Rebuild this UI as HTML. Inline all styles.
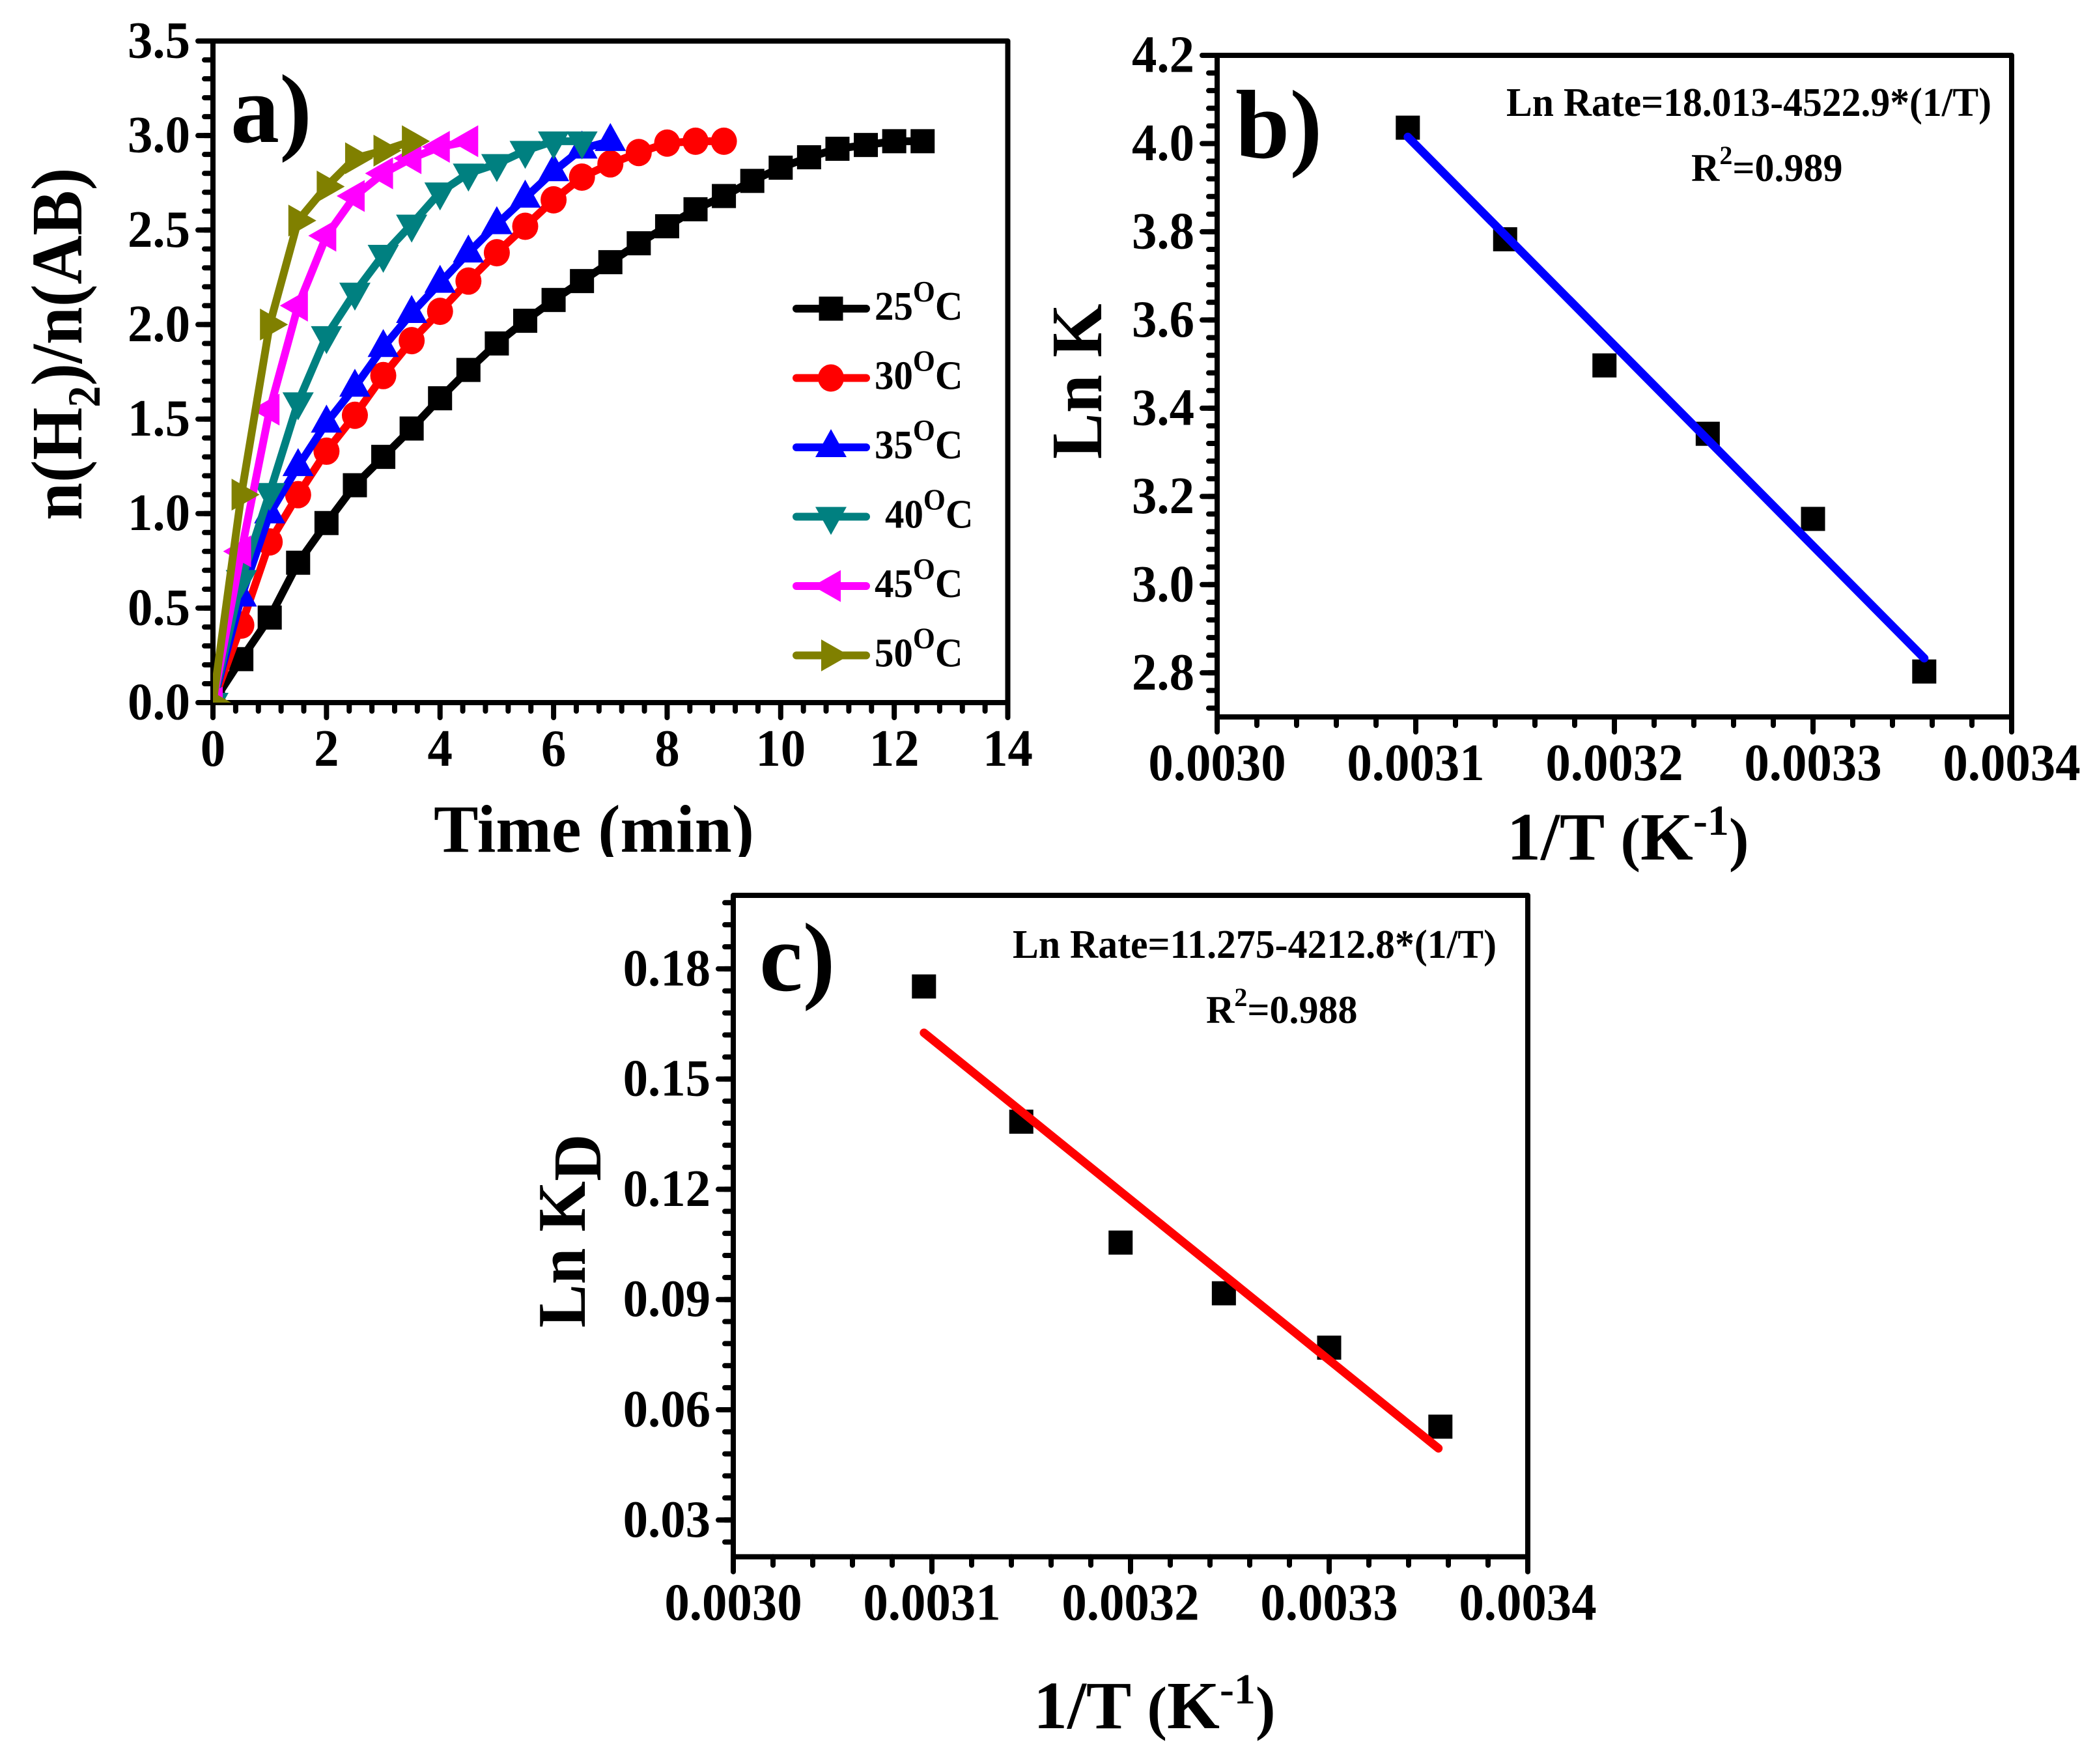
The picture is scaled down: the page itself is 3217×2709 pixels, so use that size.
<!DOCTYPE html>
<html>
<head>
<meta charset="utf-8">
<title>Kinetics chart</title>
<style>
html,body{margin:0;padding:0;background:#fff;}
svg{display:block;}
text{font-family:"Liberation Serif",serif;font-weight:bold;fill:#000;}
</style>
</head>
<body>
<svg id="fig" xmlns="http://www.w3.org/2000/svg" width="3217" height="2709" viewBox="0 0 3217 2709">
<rect width="3217" height="2709" fill="#fff"/>
<defs>
<clipPath id="clip-a"><rect x="327" y="63" width="1221" height="1016"/></clipPath>
<clipPath id="clip-time"><rect x="600" y="1200" width="650" height="116"/></clipPath>
</defs>
<g id="panel-a"></g>
<g id="panel-b"></g>
<g id="panel-c"></g>

<text x="354" y="218" font-size="150">a)</text>
<text x="1897" y="242" font-size="150">b)</text>
<text x="1166" y="1521" font-size="150">c)</text>

<text x="666" y="1308" font-size="104" textLength="492" lengthAdjust="spacingAndGlyphs" clip-path="url(#clip-time)">Time (min)</text>
<text transform="translate(125,799) rotate(-90) scale(1,1.07)" font-size="104">n(H<tspan font-size="66" dy="26">2</tspan><tspan dy="-26">)/n(AB)</tspan></text>

<text x="2314" y="1320" font-size="104">1/T <tspan font-size="92">(</tspan>K<tspan font-size="66" dy="-38">-1</tspan><tspan font-size="92" dy="38">)</tspan></text>
<text transform="translate(1691,705) rotate(-90) scale(1,1.05)" font-size="106">Ln K</text>
<text x="2313" y="178" font-size="62" textLength="745" lengthAdjust="spacingAndGlyphs">Ln Rate=18.013-4522.9*(1/T)</text>
<text x="2597" y="278" font-size="60">R<tspan font-size="40" dy="-26">2</tspan><tspan dy="26">=0.989</tspan></text>

<text x="1587" y="2654" font-size="104">1/T <tspan font-size="92">(</tspan>K<tspan font-size="66" dy="-38">-1</tspan><tspan font-size="92" dy="38">)</tspan></text>
<text transform="translate(898,2039) rotate(-90) scale(1,1.05)" font-size="100">Ln K<tspan dy="23">D</tspan></text>
<text x="1555" y="1471" font-size="62" textLength="743" lengthAdjust="spacingAndGlyphs">Ln Rate=11.275-4212.8*(1/T)</text>
<text x="1852" y="1571" font-size="60">R<tspan font-size="40" dy="-26">2</tspan><tspan dy="26">=0.988</tspan></text>
</svg>

<script>
// ---- Panel a data ----
const times25 = [0,0.5,1,1.5,2,2.5,3,3.5,4,4.5,5,5.5,6,6.5,7,7.5,8,8.5,9,9.5,10,10.5,11,11.5,12,12.5];
const ratio25 = [0,0.23,0.45,0.74,0.95,1.15,1.30,1.45,1.61,1.76,1.90,2.02,2.13,2.23,2.33,2.43,2.52,2.61,2.68,2.76,2.83,2.885,2.93,2.95,2.97,2.97];
const times30 = [0,0.5,1,1.5,2,2.5,3,3.5,4,4.5,5,5.5,6,6.5,7,7.5,8,8.5,9];
const ratio30 = [0,0.41,0.85,1.10,1.33,1.52,1.73,1.915,2.07,2.23,2.38,2.52,2.66,2.78,2.85,2.91,2.96,2.97,2.97];
const times35 = [0,0.5,1,1.5,2,2.5,3,3.5,4,4.5,5,5.5,6,6.5,7];
const ratio35 = [0,0.56,1.0,1.25,1.48,1.67,1.88,2.06,2.22,2.38,2.53,2.67,2.81,2.93,2.97];
const times40 = [0,0.5,1,1.5,2,2.5,3,3.5,4,4.5,5,5.5,6,6.5];
const ratio40 = [0,0.65,1.11,1.59,1.94,2.17,2.37,2.53,2.70,2.80,2.85,2.92,2.97,2.97];
const times45 = [0,0.5,1,1.5,2,2.5,3,3.5,4,4.5];
const ratio45 = [0,0.80,1.55,2.10,2.47,2.68,2.80,2.88,2.94,2.97];
const times50 = [0,0.5,1,1.5,2,2.5,3,3.5];
const ratio50 = [0,1.10,2.00,2.55,2.73,2.88,2.92,2.97];
const xTicksA = ["0","2","4","6","8","10","12","14"];
const yTicksA = ["0.0","0.5","1.0","1.5","2.0","2.5","3.0","3.5"];

// ---- Panel b data ----
const inverseT = [0.003096,0.003145,0.003195,0.003247,0.0033,0.003356];
const lnK = [4.036,3.783,3.497,3.342,3.149,2.803];
const fitXB = [0.003096,0.003356];
const fitYB = [4.015,2.833];
const xTicksB = ["0.0030","0.0031","0.0032","0.0033","0.0034"];
const yTicksB = ["2.8","3.0","3.2","3.4","3.6","3.8","4.0","4.2"];

// ---- Panel c data ----
const lnKD = [0.1752,0.1384,0.1055,0.0917,0.0769,0.0554];
const fitXC = [0.003096,0.003355];
const fitYC = [0.1626,0.0495];
const xTicksC = ["0.0030","0.0031","0.0032","0.0033","0.0034"];
const yTicksC = ["0.03","0.06","0.09","0.12","0.15","0.18"];

const NS = "http://www.w3.org/2000/svg";
function mk(tag, parent, attrs){
  const e = document.createElementNS(NS, tag);
  for (const k in attrs) e.setAttribute(k, attrs[k]);
  parent.appendChild(e);
  return e;
}
function linear(d0,d1,r0,r1){ return v => r0 + (v-d0)/(d1-d0)*(r1-r0); }

function drawFrame(g, L, T, R, B){
  const f = mk('path', g, {d:`M${L} ${B}V${T}H${R}V${B}Z`, fill:'none', stroke:'#000', 'stroke-width':8, 'stroke-linejoin':'round'});
  
  
}
function drawTick(g, x1, y1, x2, y2){
  const t = mk('line', g, {x1:x1, y1:y1, x2:x2, y2:y2, stroke:'#000', 'stroke-width':8, 'stroke-linecap':'round'});
  
  
}
function drawLabel(g, x, y, str, anchor){
  const t = mk('text', g, {transform:`translate(${x},${y}) scale(0.96,1)`, 'font-size':80, 'text-anchor':anchor});
  t.textContent = str;
  
  
}
function drawAxes(g, L, T, R, B, sx, sy, xLabels, yLabels, xSub, ySub, yTickList){
  drawFrame(g, L, T, R, B);
  xLabels.forEach((s,i)=>{
    const v = parseFloat(s), px = sx(v);
    drawTick(g, px, B, px, B+23);
    drawLabel(g, px, B+97, s, 'middle');
    if (i < xLabels.length-1){
      const next = parseFloat(xLabels[i+1]);
      for (let k=1;k<xSub;k++){
        const m = sx(v+(next-v)*k/xSub);
        drawTick(g, m, B, m, B+13);
      }
    }
  });
  yTickList.forEach(v=>{
    const py = sy(v);
    drawTick(g, L, py, L-13, py);
  });
  yLabels.forEach(s=>{
    const py = sy(parseFloat(s));
    drawTick(g, L, py, L-23, py);
    drawLabel(g, L-35, py+25.5, s, 'end');
  });
}
function minorList(yLabels, step, lo, hi){
  const out = [];
  const base = parseFloat(yLabels[0]);
  for (let n=-20;n<200;n++){
    const v = base + n*step;
    if (v>=lo-1e-9 && v<=hi+1e-9) out.push(v);
  }
  return out;
}
function drawMarker(g, shape, color, x, y){
  let m;
  if (shape==='square') m = mk('rect', g, {x:x-18.5, y:y-18.5, width:37, height:37, fill:color});
  else if (shape==='circle') m = mk('ellipse', g, {cx:x, cy:y, rx:20, ry:21, fill:color});
  else if (shape==='up') m = mk('polygon', g, {points:`${x},${y-28} ${x+24},${y+15} ${x-24},${y+15}`, fill:color});
  else if (shape==='down') m = mk('polygon', g, {points:`${x},${y+28} ${x+24},${y-15} ${x-24},${y-15}`, fill:color});
  else if (shape==='left') m = mk('polygon', g, {points:`${x-28},${y} ${x+15},${y-24.5} ${x+15},${y+24.5}`, fill:color});
  else m = mk('polygon', g, {points:`${x+28},${y} ${x-15},${y-24.5} ${x-15},${y+24.5}`, fill:color});
  
  
}

// ---- Panel a ----
(function(){
  const g = document.getElementById('panel-a');
  const L=327,T=63,R=1547.5,B=1079;
  const sx = linear(0,14,L,R), sy = linear(0,3.5,B,T);
  drawAxes(g,L,T,R,B,sx,sy,xTicksA,yTicksA,5,5,minorList(yTicksA,0.1,0,3.5));
  const data = mk('g', g, {'clip-path':'url(#clip-a)'});
  
  
  const series = [
    [times25,ratio25,'#000000','square','25','O','C',1343],
    [times30,ratio30,'#ff0000','circle','30','O','C',1343],
    [times35,ratio35,'#0000ff','up','35','O','C',1343],
    [times40,ratio40,'#008080','down','40','O','C',1359],
    [times45,ratio45,'#ff00ff','left','45','O','C',1343],
    [times50,ratio50,'#808000','right','50','O','C',1343]
  ];
  series.forEach((s,idx)=>{
    const pts = s[0].map((t,i)=>sx(t)+','+sy(s[1][i])).join(' ');
    const line = mk('polyline', data, {points:pts, fill:'none', stroke:s[2], 'stroke-width':12, 'stroke-linejoin':'round', 'stroke-linecap':'round'});
    
    
    s[0].forEach((t,i)=>drawMarker(data, s[3], s[2], sx(t), sy(s[1][i])));

    const ly = 474 + idx*106.5;
    const entry = mk('g', g, {});
    
    
    mk('line', entry, {x1:1223, y1:ly, x2:1330, y2:ly, stroke:s[2], 'stroke-width':12, 'stroke-linecap':'round'});
    drawMarker(entry, s[3], s[2], 1276, ly);
    const lab = mk('text', entry, {transform:`translate(${s[7]},${ly+17}) scale(0.95,1)`, 'font-size':62});
    const t1 = mk('tspan', lab, {});
    t1.textContent = s[4];
    const t2 = mk('tspan', lab, {'font-size':46, dy:-28});
    t2.textContent = s[5];
    const t3 = mk('tspan', lab, {dy:28});
    t3.textContent = s[6];
  });
})();

// ---- Panels b, c ----
function drawScatter(id,L,T,R,B,yMin,yMax,xLab,yLab,yStep,ys,fitX,fitY,color){
  const g = document.getElementById(id);
  const sx = linear(0.003,0.0034,L,R), sy = linear(yMin,yMax,B,T);
  drawAxes(g,L,T,R,B,sx,sy,xLab,yLab,5,5,minorList(yLab,yStep,yMin,yMax));
  inverseT.forEach((x,i)=>drawMarker(g,'square','#000',sx(x),sy(ys[i])));
  const fit = mk('line', g, {x1:sx(fitX[0]), y1:sy(fitY[0]), x2:sx(fitX[1]), y2:sy(fitY[1]), stroke:color, 'stroke-width':13, 'stroke-linecap':'round'});
  
  
}
drawScatter('panel-b',1869,85,3089,1101,2.7,4.2,xTicksB,yTicksB,0.04,lnK,fitXB,fitYB,'#0000ff');
drawScatter('panel-c',1126,1375,2346,2390.7,0.02,0.2,xTicksC,yTicksC,0.006,lnKD,fitXC,fitYC,'#ff0000');
</script>
</body>
</html>
